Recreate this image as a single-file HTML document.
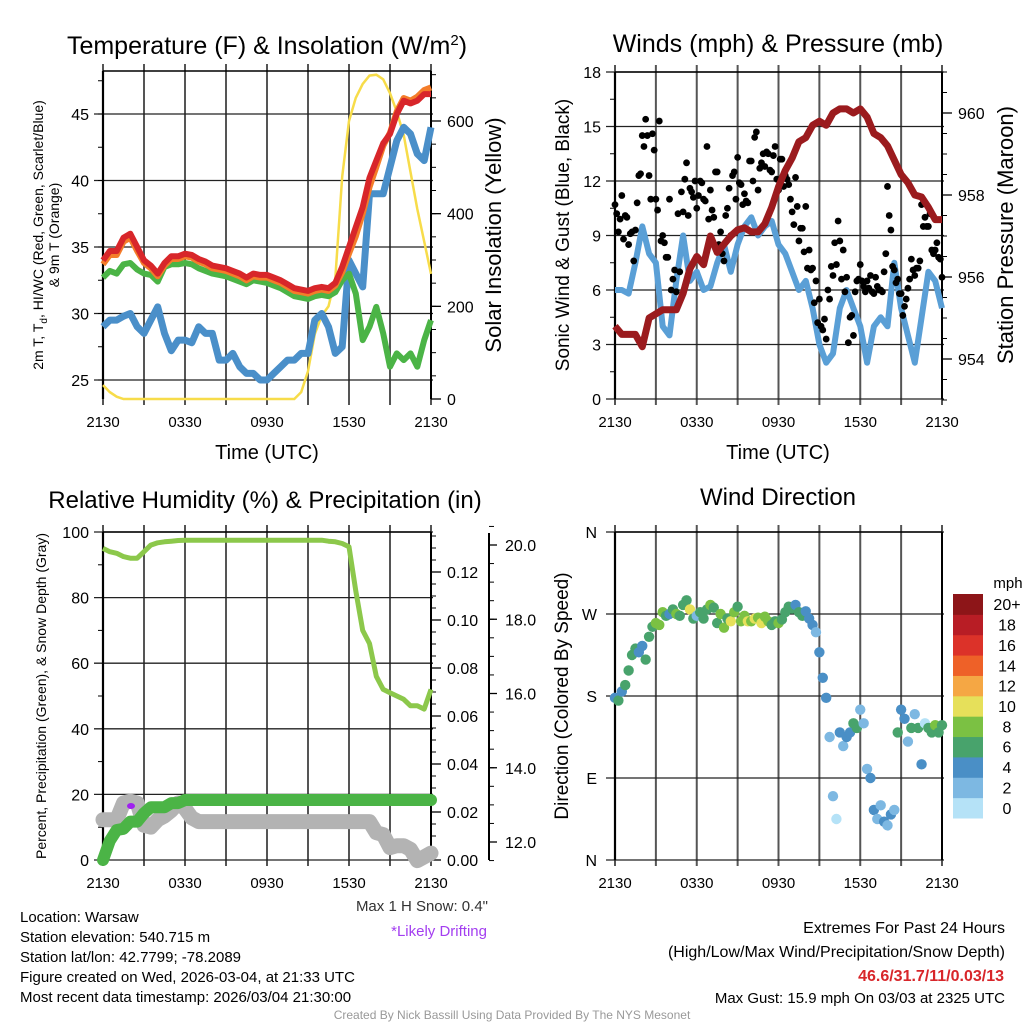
<!DOCTYPE html>
<html><head><meta charset="utf-8"><style>
html,body{margin:0;padding:0;background:#fff;}
svg{display:block;font-family:"Liberation Sans",sans-serif;}
</style></head><body>
<svg id="c" width="1024" height="1024" viewBox="0 0 1024 1024"></svg>
<script>
// ---------- DATA (sampled every 0.5 h from 2130 UTC) ----------
const timeTicks = ["2130","0330","0930","1530","2130"];
const tempTicks = [25,30,35,40,45];
const solarTicks = [0,200,400,600];
const windTicks = [0,3,6,9,12,15,18];
const presTicks = [954,956,958,960];
const rhTicks = [0,20,40,60,80,100];
const precipTicks = [0.00,0.02,0.04,0.06,0.08,0.10,0.12];
const snowTicks = [12.0,14.0,16.0,18.0,20.0];
const dirTicks = ["N","E","S","W","N"];
const speedLabels = ["0","2","4","6","8","10","12","14","16","18","20+"];

const tempRed = [34,34.7,34.7,35.7,36,35,34,33.6,33,33.8,34.3,34.3,34.5,34.4,34.1,33.9,33.6,33.5,33.4,33.2,33,32.7,33,32.9,32.9,32.7,32.5,32.2,31.9,31.8,31.7,31.9,32,31.9,32.3,33.5,35,36.5,38,40.2,41.5,42.8,43.5,45,46,45.8,46,46.5,46.5];
const temp9m = [33.7,34.4,34.4,35.4,35.7,34.7,33.8,33.4,32.8,33.6,34.1,34.1,34.3,34.2,33.9,33.7,33.4,33.3,33.2,33,32.8,32.5,32.8,32.7,32.7,32.5,32.3,32,31.7,31.6,31.5,31.7,31.8,31.7,32.1,33.1,34.5,35.8,37.5,39.5,41,42.6,43.6,45.2,46.2,46,46.3,46.8,47];
const tempGreen = [32.7,33.2,33,33.7,33.8,33.3,33,32.9,32.4,33.5,33.7,33.7,33.8,33.7,33.4,33.2,33,32.9,32.8,32.6,32.4,32.2,32.5,32.4,32.3,32.1,31.9,31.6,31.3,31.2,31.1,31.3,31.4,31.3,31.6,32.5,33,31.5,28,29,30.5,28.5,26,27,26.5,27,26,28,29.5];
const dewBlue = [29,29.5,29.5,29.8,30,29,28.5,29.5,30.5,28.5,27.2,28,28,27.8,29,28.5,28.5,26.5,26.5,27,26,25.5,25.5,25,25,25.5,26,26.5,26.5,27,27,29.5,30,29,27,27.5,34,33,32,39,39,39,41,43,44,43.5,42,41.5,44];
const solar = [30,15,5,0,0,0,0,0,0,0,0,0,0,0,0,0,0,0,0,0,0,0,0,0,0,0,0,0,0,15,60,140,180,200,260,480,600,650,680,698,700,690,660,620,570,490,410,340,270];

const windSpeed = [6,6,5.8,7.5,9.5,8,7.5,4,3.5,6.5,9,6.5,7,6,6.2,7.5,8.5,7,8.5,9.5,10,9,9.5,9.8,8.5,8,7,6,6.5,5,3,2,2.5,5,6,5,4,2,4,4.5,4,7.5,5,3.5,2,4.5,7,6.5,5];
const gustA = [10.7,9.2,11.2,10.1,8.5,9.2,9.3,12.3,14.5,15.4,12.3,14.6,11,15.3,9,7.8,11,6.6,5.9,7,10.3,13,11.6,11.1,10.5,12,11,13.9,11.5,10,12.5,9.2,7.6,10.5,9,12.5,13.3,11.8,11.3,10.8,13.1,14.4,11.5,13,12.8,13.5,12.5,13.9,11.5,13.2,12.3,11.8,10.3,12.2,8.7,9.4,10.6,8.2,7.2,6.5,5.5,3.8,3.3,5.5,6.8,7.4,8.7,8.2,6.7,4.5,3.5,6.5,7.4,6.2,6.5,6.8,5.8,6.2,6,7,11.7,9.3,7.1,6.6,5.8,5.1,6.1,7.7,6.8,7.2,10.7,10,9.5,8.2,8.2,7.8,6.7];
const gustB = [10.2,9.9,8.8,10,9.1,7.6,10.8,12.4,13.9,14.5,11,13.7,10.4,8.7,8.6,7.8,6,7.1,10.2,11.4,12.1,10.1,11.4,12,11.2,11.9,10.9,9.9,10.4,12.5,8.5,8,10.1,11.6,12.3,11,11.9,10.7,10.9,13.1,12,14.7,12.7,13.5,13.6,12.6,13.4,12.1,13.2,11.7,12.1,11,9.6,10.6,9.4,8.1,7.2,7.1,5.3,4.2,4,4.4,6,7.3,8.6,9.8,6.6,5.9,3.1,4.6,5.9,6.6,6.5,5.9,6.1,5.9,6.7,6,5.9,8,10.1,7.3,6.4,5.8,4.6,5.5,6.6,7.1,7.2,7.6,9.5,9.5,10.2,8,8.6,7.7];
const pressure = [954.8,954.6,954.6,954.6,954.3,955.0,955.1,955.2,955.2,955.2,955.6,956.2,956.5,956.3,957.0,956.6,956.8,957.0,957.15,957.2,957.1,957.1,957.3,957.7,958.2,958.6,958.9,959.3,959.4,959.7,959.8,959.7,960.0,960.1,960.1,960.0,960.1,959.9,959.5,959.4,959.2,958.85,958.5,958.3,958.0,957.95,957.7,957.4,957.4];

const rh = [95,94,93.5,92.5,92,92,94,96,96.7,97,97.2,97.4,97.5,97.5,97.5,97.5,97.5,97.5,97.5,97.5,97.5,97.5,97.5,97.5,97.5,97.5,97.5,97.5,97.5,97.5,97.5,97.5,97.5,97.2,97,96.5,95.5,82,70,66,56,52,51,50,49,47,47,46,52];
const precip = [0,0.008,0.0125,0.013,0.016,0.016,0.0195,0.022,0.022,0.022,0.0237,0.0237,0.025,0.025,0.025,0.025,0.025,0.025,0.025,0.025,0.025,0.025,0.025,0.025,0.025,0.025,0.025,0.025,0.025,0.025,0.025,0.025,0.025,0.025,0.025,0.025,0.025,0.025,0.025,0.025,0.025,0.025,0.025,0.025,0.025,0.025,0.025,0.025,0.025];
const snowDepth = [12.6,12.6,12.6,13.05,13.1,13.05,12.45,12.4,12.6,12.7,12.85,13.05,12.9,12.65,12.55,12.55,12.55,12.55,12.55,12.55,12.55,12.55,12.55,12.55,12.55,12.55,12.55,12.55,12.55,12.55,12.55,12.55,12.55,12.55,12.55,12.55,12.55,12.55,12.55,12.55,12.25,12.2,11.85,11.9,11.9,11.8,11.5,11.6,11.7];

// wind direction every 0.25 h
const windDir = [178,175,185,192,208,225,232,228,235,220,245,256,260,258,272,268,270,275,270,268,280,285,275,265,268,272,265,275,280,277,260,270,255,265,262,272,278,262,268,262,262,265,266,260,267,262,258,262,260,264,272,278,276,280,272,268,273,265,258,250,228,200,178,135,70,45,140,125,135,140,150,145,165,150,100,90,55,45,60,42,38,50,55,140,165,155,130,145,160,145,105,150,145,140,148,140,148];
const dirSpeed = [5,6,5,6,6,7,6,5,4,6,7,7,8,8,8,7,4,6,8,7,6,7,10,6,3,7,6,7,8,6,7,9,8,7,10,8,7,9,8,10,9,10,9,10,9,8,7,7,8,6,7,6,7,4,6,6,5,4,4,3,4,5,4,2,2,1,4,3,5,4,6,7,2,3,2,4,4,3,2,4,3,4,2,6,4,5,3,7,3,6,4,1,6,7,8,6,6];
const speedColors = ["#b5e2f7","#7db8e2","#4a8fc6","#48a36c","#7bc143","#e6e05a","#f5a744","#ee6128","#dc3229","#b81d25","#8d1518"];

// ---------- HELPERS ----------
const NS="http://www.w3.org/2000/svg";
const svg=document.getElementById('c');
function mk(tag,attrs,parent){const e=document.createElementNS(NS,tag);for(const k in attrs)e.setAttribute(k,attrs[k]);(parent||svg).appendChild(e);return e;}
function txt(s,x,y,size,opts,parent){const o=Object.assign({x:x,y:y,'font-size':size,fill:'#000'},opts||{});const e=mk('text',o,parent);e.textContent=s;return e;}
function lin(a0,a1,p0,p1){return v=>p0+(v-a0)/(a1-a0)*(p1-p0);}

const P={tl:{x0:103,x1:431,y0:71,y1:399},tr:{x0:615,x1:942,y0:72,y1:399},bl:{x0:103,x1:431,y0:532,y1:860},br:{x0:615,x1:942,y0:532,y1:860}};

function grid(p,g,yvals,ymap){
  const xs=lin(0,24,p.x0,p.x1);
  for(let h=0;h<=24;h+=3){const l=mk('line',{x1:xs(h),x2:xs(h),y1:p.y0-7,y2:p.y1+6,stroke:'#555','stroke-width':2},g);
    
    }
  yvals.forEach(v=>{const y=ymap(v);const l=mk('line',{x1:p.x0-9,x2:p.x1+2,y1:y,y2:y,stroke:'#222','stroke-width':1.3},g);
    
    });
  mk('line',{x1:p.x0,x2:p.x0,y1:p.y0,y2:p.y1,stroke:'#000','stroke-width':2.2},g);
  mk('line',{x1:p.x1,x2:p.x1,y1:p.y0,y2:p.y1,stroke:'#000','stroke-width':2},g);
  mk('line',{x1:p.x0,x2:p.x1,y1:p.y0,y2:p.y0,stroke:'#000','stroke-width':1.5},g);
  timeTicks.forEach((s,i)=>{const t=txt(s,xs(i*6),p.y1+28,15,{'text-anchor':'middle'},g);
    
    });
}
function pathFrom(arr,step,xs,ys){return arr.map((v,i)=>(i?'L':'M')+xs(i*step).toFixed(1)+' '+ys(v).toFixed(1)).join(' ');}
function leftTicks(p,vals,ymap,g,fmt){vals.forEach(v=>{const t=txt(fmt?fmt(v):String(v),p.x0-14,ymap(v)+6,16,{'text-anchor':'end'},g);
  
  });}
function rightTicks(p,vals,ymap,g,fmt,minorStep,lo,hi){
  const x=p.x1;
  if(minorStep){for(let v=lo;v<=hi+1e-9;v+=minorStep){const y=ymap(v);if(y<p.y0-1||y>p.y1+1)continue;mk('line',{x1:x,x2:x+5,y1:y,y2:y,stroke:'#000','stroke-width':1},g);}}
  vals.forEach(v=>{mk('line',{x1:x,x2:x+10,y1:ymap(v),y2:ymap(v),stroke:'#000','stroke-width':1.3},g);
    const t=txt(fmt?fmt(v):String(v),x+16,ymap(v)+6,16,{},g);
    
    });
}
function vtitle(s,x,y,size,g){const t=txt(s,0,0,size,{'text-anchor':'middle',transform:`translate(${x},${y}) rotate(-90)`},g);return t;}

// ---------- TOP LEFT: Temperature ----------
{const p=P.tl;const g=mk('g',{});


const xs=lin(0,24,p.x0,p.x1), ys=lin(25,45,380,114), ysol=lin(0,600,399,121);
grid(p,g,tempTicks,ys);
for(let v=22.5;v<=47.5;v+=2.5){if(ys(v)>=p.y0&&ys(v)<=p.y1)mk('line',{x1:p.x0-5,x2:p.x0,y1:ys(v),y2:ys(v),stroke:'#000'},g);}
leftTicks(p,tempTicks,ys,g);
rightTicks(p,solarTicks,ysol,g,null,50,0,700);
const sp=mk('path',{d:pathFrom(solar,0.5,xs,ysol),fill:'none',stroke:'#f7dc4a','stroke-width':2.5},g);


const bl=mk('path',{d:pathFrom(dewBlue,0.5,xs,ys),fill:'none',stroke:'#4a8fc9','stroke-width':7,'stroke-linejoin':'round'},g);


const gr=mk('path',{d:pathFrom(tempGreen,0.5,xs,ys),fill:'none',stroke:'#4bb446','stroke-width':6,'stroke-linejoin':'round'},g);


const or=mk('path',{d:pathFrom(temp9m,0.5,xs,ys),fill:'none',stroke:'#f47d2a','stroke-width':6,'stroke-linejoin':'round'},g);


const rd=mk('path',{d:pathFrom(tempRed,0.5,xs,ys),fill:'none',stroke:'#d8262a','stroke-width':6,'stroke-linejoin':'round'},g);


const t1=txt('',267,54,25,{'text-anchor':'middle'},g);t1.innerHTML='Temperature (F) &amp; Insolation (W/m<tspan dy="-9" font-size="15">2</tspan><tspan dy="9">)</tspan>';


const a1=txt('',0,0,14,{'text-anchor':'middle',transform:'translate(43,235) rotate(-90)'},g);a1.innerHTML='2m T, T<tspan dy="4" font-size="10">d</tspan><tspan dy="-4">, HI/WC (Red, Green, Scarlet/Blue)</tspan>';


const a2=vtitle('& 9m T (Orange)',59,235,14,g);


const a3=vtitle('Solar Insolation (Yellow)',501,235,22,g);


const xt=txt('Time (UTC)',267,459,20,{'text-anchor':'middle'},g);


}

// ---------- TOP RIGHT: Winds & Pressure ----------
{const p=P.tr;const g=mk('g',{});


const xs=lin(0,24,p.x0,p.x1), ys=lin(0,18,399,72), yp=lin(954,960,359,113);
grid(p,g,windTicks,ys);
for(let v=1.5;v<18;v+=3)mk('line',{x1:p.x0-5,x2:p.x0,y1:ys(v),y2:ys(v),stroke:'#000'},g);
leftTicks(p,windTicks,ys,g);
rightTicks(p,presTicks,yp,g,null,0.5,953,961.5);
const wl=mk('path',{d:pathFrom(windSpeed,0.5,xs,ys),fill:'none',stroke:'#5a9fd6','stroke-width':6,'stroke-linejoin':'round'},g);


gustA.forEach((v,i)=>{const c=mk('circle',{cx:xs(i*0.25),cy:ys(v),r:3.4,fill:'#000'},g);
  
  });
gustB.forEach((v,i)=>{const c=mk('circle',{cx:xs(0.125+i*0.25),cy:ys(v),r:3.4,fill:'#000'},g);
  
  });
const pl=mk('path',{d:pathFrom(pressure,0.5,xs,yp),fill:'none',stroke:'#9b1b1e','stroke-width':7,'stroke-linejoin':'round'},g);


const t=txt('Winds (mph) & Pressure (mb)',778,52,25,{'text-anchor':'middle'},g);


const a=vtitle('Sonic Wind & Gust (Blue, Black)',569,235,19,g);


const b=vtitle('Station Pressure (Maroon)',1013,235,22,g);


const xt=txt('Time (UTC)',778,459,20,{'text-anchor':'middle'},g);


}

// ---------- BOTTOM LEFT: RH & Precip ----------
{const p=P.bl;const g=mk('g',{});


const xs=lin(0,24,p.x0,p.x1), ys=lin(0,100,860,532), ypr=lin(0,0.02,860,812), ysn=lin(12,20,842,545);
grid(p,g,rhTicks,ys);
for(let v=10;v<100;v+=20)mk('line',{x1:p.x0-5,x2:p.x0,y1:ys(v),y2:ys(v),stroke:'#000'},g);
leftTicks(p,rhTicks,ys,g);
rightTicks(p,precipTicks,ypr,g,v=>v.toFixed(2),0.005,0,0.135);
mk('line',{x1:489,x2:489,y1:533,y2:860,stroke:'#000','stroke-width':2},g);
for(let v=11.5;v<=20.6;v+=0.5)mk('line',{x1:489,x2:494,y1:ysn(v),y2:ysn(v),stroke:'#000'},g);
snowTicks.forEach(v=>{mk('line',{x1:489,x2:497,y1:ysn(v),y2:ysn(v),stroke:'#000','stroke-width':1.3},g);
  const t=txt(v.toFixed(1),505,ysn(v)+6,16,{},g);
  
  });
const sn=mk('path',{d:pathFrom(snowDepth,0.5,xs,ysn),fill:'none',stroke:'#b3b3b3','stroke-width':15,'stroke-linejoin':'round','stroke-linecap':'round'},g);


const pr=mk('path',{d:pathFrom(precip,0.5,xs,ypr),fill:'none',stroke:'#4bb446','stroke-width':12,'stroke-linejoin':'round','stroke-linecap':'round'},g);


const dr=mk('ellipse',{cx:131,cy:806,rx:4,ry:3,fill:'#a020f0'},g);


const rl=mk('path',{d:pathFrom(rh,0.5,xs,ys),fill:'none',stroke:'#8cc84b','stroke-width':5,'stroke-linejoin':'round'},g);


const t=txt('Relative Humidity (%) & Precipitation (in)',265,508,24,{'text-anchor':'middle'},g);


const a=vtitle('Percent, Precipitation (Green), & Snow Depth (Gray)',46,696,14,g);


const s1=txt('Max 1 H Snow: 0.4"',488,911,15,{'text-anchor':'end',fill:'#333'},g);


const s2=txt('*Likely Drifting',487,936,15,{'text-anchor':'end',fill:'#a33ef0'},g);


}

// ---------- BOTTOM RIGHT: Wind Direction ----------
{const p=P.br;const g=mk('g',{});


const xs=lin(0,24,p.x0,p.x1), yd=lin(0,360,860,532);
grid(p,g,[0,90,180,270,360],yd);
dirTicks.forEach((s,i)=>{const t=txt(s,p.x0-18,yd(i*90)+6,16,{'text-anchor':'end'},g);
  
  });
windDir.forEach((d,i)=>{const bin=Math.min(10,Math.floor(dirSpeed[i]/2));
  const c=mk('circle',{cx:xs(i*0.25),cy:yd(d),r:5.2,fill:speedColors[bin]},g);
  
  });
const t=txt('Wind Direction',778,505,24,{'text-anchor':'middle'},g);


const a=vtitle('Direction (Colored By Speed)',568,696,19,g);


const lg=mk('g',{},g);


const bh=(818-594)/11;
speedColors.forEach((c,i)=>{const y=818-(i+1)*bh;
  const r=mk('rect',{x:953,y:y,width:30,height:bh+0.5,fill:c},lg);
  
  
  const l=txt(speedLabels[i],1007,y+bh/2+6,16,{'text-anchor':'middle'},lg);
  
  });
const m=txt('mph',1008,588,15,{'text-anchor':'middle'},lg);


}

// ---------- FOOTER TEXT ----------
{const g=mk('g',{});


["Location: Warsaw","Station elevation: 540.715 m","Station lat/lon: 42.7799; -78.2089","Figure created on Wed, 2026-03-04, at 21:33 UTC","Most recent data timestamp: 2026/03/04 21:30:00"].forEach((s,i)=>{
  const t=txt(s,20,922+i*20,15,{},g);
  
  });
const e1=txt('Extremes For Past 24 Hours',1005,933,16,{'text-anchor':'end'},g);


const e2=txt('(High/Low/Max Wind/Precipitation/Snow Depth)',1005,957,16,{'text-anchor':'end'},g);


const e3=txt('46.6/31.7/11/0.03/13',1004,981,16,{'text-anchor':'end',fill:'#d8262a','font-weight':'bold'},g);


const e4=txt('Max Gust: 15.9 mph On 03/03 at 2325 UTC',1005,1003,15,{'text-anchor':'end'},g);


const f=txt('Created By Nick Bassill Using Data Provided By The NYS Mesonet',512,1019,12,{'text-anchor':'middle',fill:'#999'},g);


}
</script>
</body></html>
